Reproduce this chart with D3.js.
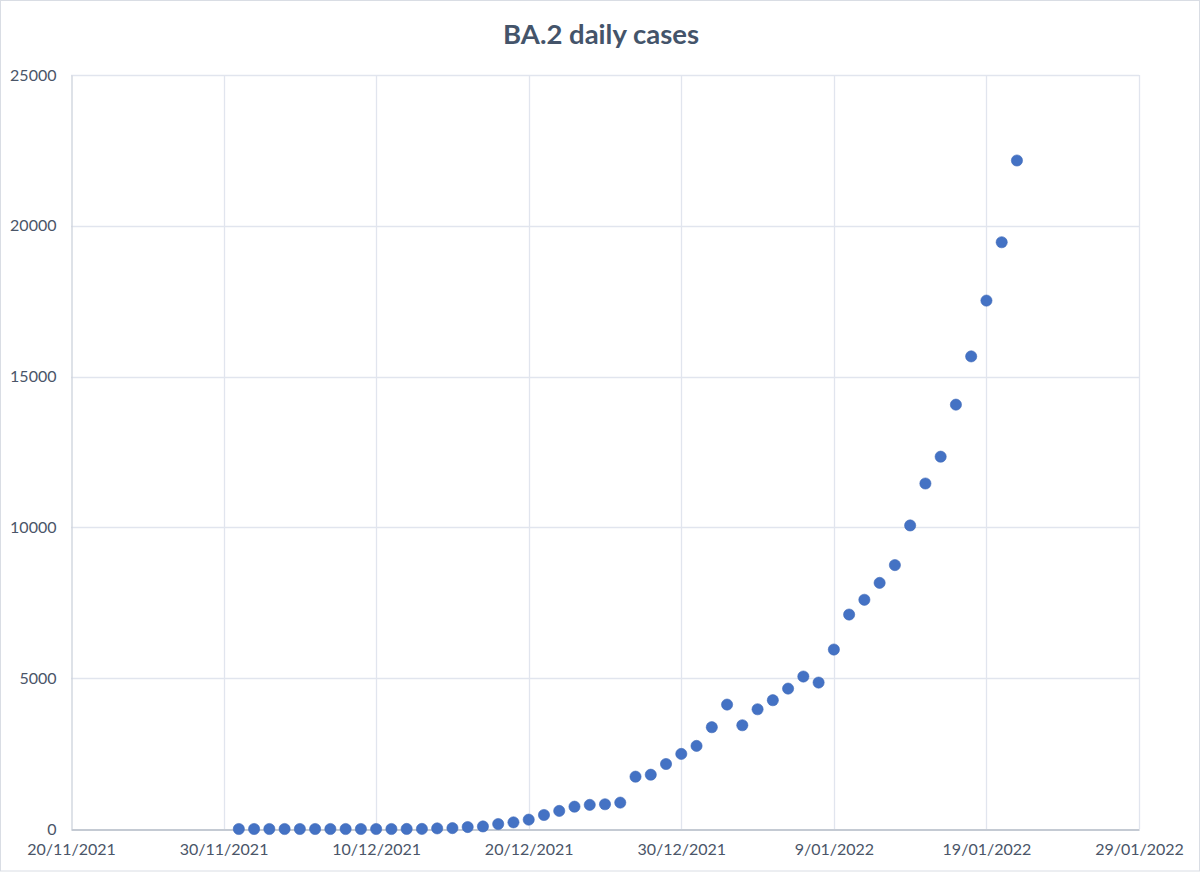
<!DOCTYPE html>
<html>
<head>
<meta charset="utf-8">
<script src="https://cdn.jsdelivr.net/npm/d3@7"></script>
<style>
  html, body { margin: 0; padding: 0; background: #fff; }
  svg { display: block; }
  text { font-family: Lato, "Open Sans", "Noto Sans", sans-serif; }
</style>
</head>
<body>
<svg id="chart" width="1200" height="873"></svg>
<script>
const chartTitle = "BA.2 daily cases";

const dates = [
  "2021-12-01","2021-12-02","2021-12-03","2021-12-04","2021-12-05","2021-12-06","2021-12-07",
  "2021-12-08","2021-12-09","2021-12-10","2021-12-11","2021-12-12","2021-12-13","2021-12-14",
  "2021-12-15","2021-12-16","2021-12-17","2021-12-18","2021-12-19","2021-12-20","2021-12-21",
  "2021-12-22","2021-12-23","2021-12-24","2021-12-25","2021-12-26","2021-12-27","2021-12-28",
  "2021-12-29","2021-12-30","2021-12-31","2022-01-01","2022-01-02","2022-01-03","2022-01-04",
  "2022-01-05","2022-01-06","2022-01-07","2022-01-08","2022-01-09","2022-01-10","2022-01-11",
  "2022-01-12","2022-01-13","2022-01-14","2022-01-15","2022-01-16","2022-01-17","2022-01-18",
  "2022-01-19","2022-01-20","2022-01-21"
];

const cases = [
  0, 0, 0, 0, 0, 0, 0,
  0, 0, 0, 0, 2, 3, 20,
  30, 65, 85, 165, 220, 310, 465,
  600, 740, 800, 820, 875, 1735, 1800,
  2155, 2490, 2755, 3375, 4125, 3440, 3970,
  4270, 4655, 5055, 4855, 5950, 7110, 7600,
  8160, 8750, 10065, 11455, 12345, 14070, 15670,
  17520, 19455, 22165
];

const xTickDates = ["2021-11-20","2021-11-30","2021-12-10","2021-12-20","2021-12-30","2022-01-09","2022-01-19","2022-01-29"];
const yTickValues = [0, 5000, 10000, 15000, 20000, 25000];

const parse = d3.utcParse("%Y-%m-%d");
const fmt = d3.utcFormat("%-d/%m/%Y");

const data = dates.map((d, i) => ({ date: parse(d), value: cases[i] }));
const xTicks = xTickDates.map(parse);

const svg = d3.select("#chart");
const W = 1200, H = 873;
const margin = { left: 71, right: 61, top: 75, bottom: 44 };
const x0 = margin.left, x1 = W - margin.right;
const y0 = H - margin.bottom, y1 = margin.top;

// outer border
svg.append("rect")
  .attr("x", 0.5).attr("y", 0.5).attr("width", W - 1).attr("height", H - 2.5)
  .attr("fill", "#fff").attr("stroke", "#d9dde4").attr("stroke-width", 1);

const x = d3.scaleUtc().domain([xTicks[0], xTicks[xTicks.length - 1]]).range([x0, x1]);
const y = d3.scaleLinear().domain([0, 25000]).range([y0, y1]);

// gridlines
const grid = svg.append("g");
grid.selectAll("line.h").data(yTickValues.filter(v => v > 0)).join("line")
  .attr("x1", x0).attr("x2", x1)
  .attr("y1", d => Math.round(y(d)) + 0.5).attr("y2", d => Math.round(y(d)) + 0.5)
  .attr("stroke", "#e1e5ee").attr("stroke-width", 1.3);
grid.selectAll("line.v").data(xTicks.slice(1)).join("line")
  .attr("x1", d => Math.round(x(d)) + 0.5).attr("x2", d => Math.round(x(d)) + 0.5)
  .attr("y1", y1).attr("y2", y0)
  .attr("stroke", "#e1e5ee").attr("stroke-width", 1.3);

// y axis
const yAxis = svg.append("g")
  .attr("transform", `translate(${x0 + 0.5},0)`)
  .call(d3.axisLeft(y).tickValues(yTickValues).tickSize(0).tickPadding(15).tickFormat(d3.format("d")));
yAxis.select(".domain").attr("stroke", "#cdd3dc").attr("stroke-width", 1.3);
yAxis.selectAll("text").attr("fill", "#4a5568").attr("font-size", 16);

// x axis
const xAxis = svg.append("g")
  .attr("transform", `translate(0,${y0 + 0.5})`)
  .call(d3.axisBottom(x).tickValues(xTicks).tickSize(0).tickPadding(14).tickFormat(fmt));
xAxis.select(".domain").attr("stroke", "#c4cad3").attr("stroke-width", 2);
xAxis.selectAll("text").attr("fill", "#4a5568").attr("font-size", 16);

// points
svg.append("g").selectAll("circle").data(data).join("circle")
  .attr("cx", d => x(d.date))
  .attr("cy", d => y(d.value))
  .attr("r", 5.6)
  .attr("fill", "#4472c4")
  .attr("stroke", "#3f69b8")
  .attr("stroke-width", 0.6);

// title
svg.append("text")
  .attr("x", W / 2 + 1).attr("y", 44)
  .attr("text-anchor", "middle")
  .attr("font-size", 27.5).attr("font-weight", "bold")
  .attr("fill", "#44546a")
  .text(chartTitle);
</script>
</body>
</html>
